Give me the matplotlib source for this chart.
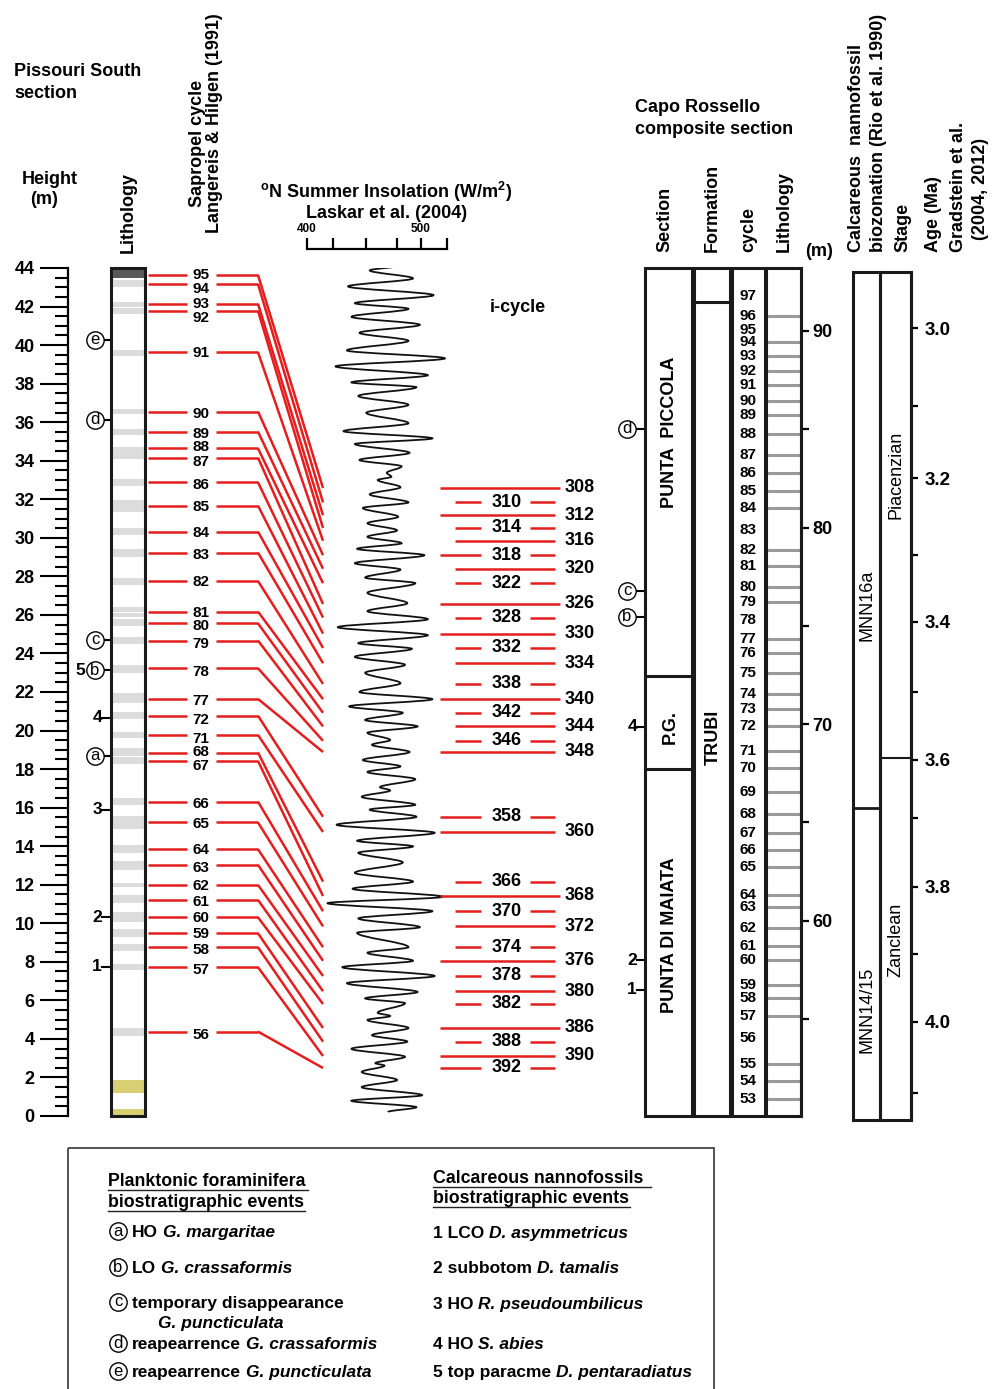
import numpy as np
import matplotlib
matplotlib.use("Agg")
import matplotlib.pyplot as plt
from matplotlib.patches import Rectangle, ConnectionPatch, PathPatch
from matplotlib.path import Path
import matplotlib.transforms as mtransforms

# ======================= DATA =======================
# --- Pissouri South section (height in m) ---
height_major_ticks = list(range(0, 45, 2))
height_minor_ticks = [i * 0.5 for i in range(0, 89)]
sapropel_bands = [(43.0, 43.4), (42.0, 42.25), (41.6, 41.95), (39.45, 39.75), (36.4, 36.7),
                  (35.35, 35.65), (34.1, 34.7), (32.7, 33.05), (31.35, 31.95), (30.15, 30.5),
                  (29.0, 29.4), (27.55, 27.9), (26.15, 26.4), (25.9, 26.1), (25.4, 25.8),
                  (24.5, 24.85), (23.0, 23.4), (21.45, 21.95), (20.6, 20.95), (19.6, 19.9),
                  (18.7, 19.1), (18.25, 18.65), (16.15, 16.5), (14.9, 15.55), (13.65, 14.05),
                  (12.75, 13.25), (11.9, 12.1), (11.05, 11.45), (10.05, 10.6), (9.3, 9.7),
                  (8.55, 8.9), (7.6, 7.9), (4.15, 4.55)]
dark_bands = [(43.5, 44.0)]
sand_bands = [(1.2, 1.85), (0.05, 0.35)]

sapropel_numbers = [95, 94, 93, 92, 91, 90, 89, 88, 87, 86, 85, 84, 83, 82, 81, 80, 79, 78, 77,
                    72, 71, 68, 67, 66, 65, 64, 63, 62, 61, 60, 59, 58, 57, 56]
sapropel_heights = [43.64, 43.17, 42.14, 41.78, 39.63, 36.55, 35.51, 34.64, 34.16, 32.88, 31.67,
                    30.32, 29.23, 27.76, 26.17, 25.56, 24.67, 23.23, 21.64, 20.77, 19.77, 18.86,
                    18.42, 16.31, 15.23, 13.84, 13.03, 11.99, 11.21, 10.31, 9.48, 8.75, 7.72, 4.38]
sapropel_icycles = [308, 310, 312, 314, 316, 318, 320, 322, 326, 328, 330, 332, 334, 338, 340,
                    342, 344, 346, 348, 358, 360, 366, 368, 370, 372, 374, 376, 378, 380, 382,
                    386, 388, 390, 392]

pis_foram_letters = ['e', 'd', 'c', 'b', 'a']
pis_foram_heights = [40.27, 36.12, 24.70, 23.14, 18.68]
pis_nanno_numbers = ['4', '3', '2', '1']
pis_nanno_heights = [20.67, 15.88, 10.30, 7.75]
pis_nanno5_height = 23.14

# --- Summer insolation (Laskar et al. 2004), turning points of the curve ---
insol_ticks = [400, 423, 452, 479, 500, 523]
insol_tick_labels = ['400', '', '', '', '500', '']
insol_wm2 = [482, 455, 493, 436, 511, 442, 489, 439, 499, 446, 489, 435, 521, 425, 506, 439,
             496, 445, 489, 452, 489, 432, 510, 442, 490, 446, 483, 470, 474, 462, 482, 455,
             489, 449, 480, 453, 479, 453, 483, 444, 503, 442, 482, 451, 495, 453, 488, 453,
             506, 427, 506, 445, 492, 442, 486, 451, 482, 446, 510, 437, 484, 451, 497, 453,
             473, 457, 490, 449, 482, 453, 495, 464, 473, 448, 495, 455, 496, 426, 512, 444,
             493, 445, 484, 442, 493, 440, 519, 418, 510, 445, 499, 444, 489, 453, 493, 431,
             512, 435, 497, 451, 486, 462, 473, 453, 489, 457, 488, 439, 486, 460, 468, 448,
             479, 448, 501, 439, 496, 471]
insol_age_ka = [2832, 2838, 2848, 2858, 2869, 2879, 2886, 2896, 2906, 2916, 2926, 2938, 2948,
                2958, 2969, 2978, 2984, 2995, 3006, 3016, 3029, 3039, 3048, 3055, 3066, 3075,
                3083, 3091, 3096, 3100, 3109, 3118, 3128, 3135, 3146, 3154, 3163, 3171, 3179,
                3186, 3194, 3204, 3212, 3222, 3229, 3241, 3254, 3264, 3274, 3284, 3294, 3304,
                3311, 3321, 3331, 3341, 3354, 3365, 3374, 3383, 3391, 3400, 3408, 3416, 3425,
                3431, 3440, 3450, 3458, 3465, 3474, 3484, 3488, 3496, 3506, 3512, 3521, 3531,
                3541, 3551, 3558, 3566, 3578, 3591, 3602, 3611, 3621, 3629, 3639, 3648, 3659,
                3666, 3684, 3691, 3701, 3709, 3720, 3729, 3740, 3748, 3754, 3766, 3770, 3775,
                3785, 3794, 3802, 3811, 3821, 3829, 3832, 3840, 3850, 3859, 3869, 3876, 3884,
                3890]
insol_age_top_ka, insol_age_bottom_ka = 2835, 3895

# --- i-cycles ---
icycle_numbers = sapropel_icycles
icycle_age_ka = [3110, 3128, 3144, 3160, 3176, 3194, 3211, 3229, 3255, 3272, 3292, 3310, 3329,
                 3355, 3374, 3391, 3408, 3426, 3440, 3521, 3540, 3602, 3620, 3639, 3658, 3684,
                 3701, 3720, 3739, 3755, 3785, 3802, 3820, 3835]
icycle_label_right = [308, 312, 316, 320, 326, 330, 334, 340, 344, 348, 360, 368, 372, 376, 380,
                      386, 390]

# --- Capo Rossello composite section (m) ---
cr_top_m, cr_bottom_m = 93.2, 50.07
cr_cycle_numbers = list(range(97, 52, -1))
cr_cycle_depths = [91.78, 90.76, 90.05, 89.44, 88.73, 87.97, 87.25, 86.44, 85.73, 84.76, 83.69,
                   82.78, 81.86, 81.00, 79.88, 78.86, 78.05, 76.98, 76.22, 75.30, 74.33, 73.62,
                   72.60, 71.53, 70.77, 69.91, 68.64, 67.77, 66.55, 65.43, 64.47, 63.60, 62.74,
                   61.31, 60.70, 59.63, 58.72, 58.01, 56.73, 56.07, 55.16, 54.04, 52.72, 51.85,
                   50.94]
cr_no_sapropel = [97, 95, 83, 78, 56]
cr_section_boundaries = [72.45, 67.72]
cr_formation_boundary = 91.47
cr_depth_major = [60, 70, 80, 90]
cr_depth_minor = [55, 65, 75, 85]
cr_foram_letters = ['d', 'c', 'b']
cr_foram_depths = [85.02, 76.78, 75.45]
cr_nanno_numbers = ['4', '2', '1']
cr_nanno_depths = [69.86, 58.00, 56.48]

# --- Biozonation / stage / age (depth-equivalent of the age column) ---
age_major_labels = ['3.0', '3.2', '3.4', '3.6', '3.8', '4.0']
age_major_depths = [90.35, 82.70, 75.40, 68.40, 61.94, 55.07]
age_minor_depths = [86.40, 78.81, 71.84, 65.43, 58.51, 51.46]
biozone_boundary_depth = 65.94
stage_boundary_depth = 68.46

# ======================= STYLE / LAYOUT =======================
plt.rcParams['font.family'] = ['Liberation Sans', 'DejaVu Sans']
plt.rcParams['font.weight'] = 'bold'
plt.rcParams['mathtext.fontset'] = 'custom'
plt.rcParams['mathtext.rm'] = 'Liberation Sans:bold'
plt.rcParams['mathtext.bf'] = 'Liberation Sans:bold'
plt.rcParams['mathtext.default'] = 'rm'

RED = '#e41e1e'
EDGE = '#1a1a1a'
W, H = 998, 1389
fig = plt.figure(figsize=(W / 100, H / 100), dpi=100)

axF = fig.add_axes([0, 0, 1, 1])
axF.set_xlim(0, W)
axF.set_ylim(H, 0)
axF.axis('off')


def add_ax(x0, y0, x1, y1):
    ax = fig.add_axes([x0 / W, 1 - y1 / H, (x1 - x0) / W, (y1 - y0) / H])
    ax.patch.set_visible(False)
    return ax


def T(x, y, s, **kw):
    return axF.text(x, y, s, **kw)


# ---------- headers ----------
T(14, 72, 'Pissouri South', ha='left', va='center', fontsize=13)
T(14, 93, 'section', ha='left', va='center', fontsize=13)
T(22, 179, 'Height', ha='left', va='center', fontsize=13)
T(30, 199, '(m)', ha='left', va='center', fontsize=13)
T(128, 253, 'Lithology', rotation=90, ha='center', va='bottom', fontsize=13)
T(198, 207, 'Sapropel cycle', rotation=90, ha='center', va='bottom', fontsize=13)
T(215, 233, 'Langereis & Hilgen (1991)', rotation=90, ha='center', va='bottom', fontsize=13)
T(386, 192, r'$^{\mathrm{o}}$N Summer Insolation (W/m$^{2}$)', ha='center', va='center', fontsize=13)
T(387, 213, 'Laskar et al. (2004)', ha='center', va='center', fontsize=13)
T(518, 307, 'i-cycle', ha='center', va='center', fontsize=13)
T(635, 108, 'Capo Rossello', ha='left', va='center', fontsize=13)
T(635, 129, 'composite section', ha='left', va='center', fontsize=13)
T(665, 252, 'Section', rotation=90, ha='center', va='bottom', fontsize=13)
T(712, 252, 'Formation', rotation=90, ha='center', va='bottom', fontsize=13)
T(749, 252, 'cycle', rotation=90, ha='center', va='bottom', fontsize=13)
T(784, 252, 'Lithology', rotation=90, ha='center', va='bottom', fontsize=13)
T(819, 251, '(m)', ha='center', va='center', fontsize=13)
T(857, 252, 'Calcareous  nannofossil', rotation=90, ha='center', va='bottom', fontsize=13)
T(879, 252, 'biozonation (Rio et al. 1990)', rotation=90, ha='center', va='bottom', fontsize=13)
T(903, 252, 'Stage', rotation=90, ha='center', va='bottom', fontsize=13)
T(934, 252, 'Age (Ma)', rotation=90, ha='center', va='bottom', fontsize=13)
T(959, 252, 'Gradstein et al.', rotation=90, ha='center', va='bottom', fontsize=13)
T(981, 240, '(2004, 2012)', rotation=90, ha='center', va='bottom', fontsize=13)

# ---------- Pissouri panel ----------
axP = add_ax(0, 268, 330, 1116)
axP.set_xlim(0, 330)
axP.set_ylim(0, 44)
for s in ['top', 'right', 'bottom']:
    axP.spines[s].set_visible(False)
axP.spines['left'].set_position(('data', 68))
axP.spines['left'].set_linewidth(1.6)
axP.set_xticks([])
axP.set_yticks(height_major_ticks)
axP.set_yticks(height_minor_ticks, minor=True)
axP.tick_params(axis='y', which='major', length=20, width=1.5, labelsize=13, pad=4)
axP.tick_params(axis='y', which='minor', length=9.5, width=1.5)

for bands, col in [(sapropel_bands, '#dcdcdc'), (dark_bands, '#5a5a5a'), (sand_bands, '#d8cf72')]:
    b = np.array(bands)
    axP.bar(128, b[:, 1] - b[:, 0], bottom=b[:, 0], width=34, color=col, linewidth=0)
axP.add_patch(Rectangle((111, 0), 34, 44, fill=False, ec=EDGE, lw=2.2, zorder=4, clip_on=False))

label_off = [0, 5, 0, 7, 1, 2, 2, -1, 4, 3, 1, 1, 2, 1, 1, 3, 3, 4, 2, 4, 4, -1, 5, 2, 2, 1, 3, 1, 2,
             1, 1, 3, 3, 3]

# ---------- insolation panel ----------
axI = add_ax(290, 268, 460, 1116)
axI.set_xlim(385.1, 534.2)
axI.set_ylim(insol_age_bottom_ka, insol_age_top_ka)
axI.axis('off')

verts = [(insol_wm2[0], insol_age_ka[0])]
codes = [Path.MOVETO]
for i in range(1, len(insol_wm2)):
    x0, t0 = insol_wm2[i - 1], insol_age_ka[i - 1]
    x1, t1 = insol_wm2[i], insol_age_ka[i]
    dt = t1 - t0
    verts += [(x0, t0 + dt / 3), (x1, t1 - dt / 3), (x1, t1)]
    codes += [Path.CURVE4] * 3
axI.add_patch(PathPatch(Path(verts, codes), fill=False, ec='#111111', lw=1.3))

axS = add_ax(290, 200, 460, 249)
axS.set_xlim(385.1, 534.2)
axS.set_ylim(0, 1)
for s in ['bottom', 'left', 'right']:
    axS.spines[s].set_visible(False)
axS.spines['top'].set_position(('axes', 0))
axS.spines['top'].set_bounds(insol_ticks[0], insol_ticks[-1])
axS.spines['top'].set_linewidth(1.6)
axS.set_yticks([])
axS.xaxis.tick_top()
axS.set_xticks(insol_ticks)
axS.set_xticklabels(insol_tick_labels)
axS.tick_params(axis='x', length=8, width=1.6, labelsize=8.5, pad=2)

# sapropel lines + correlation to i-cycles
blend = mtransforms.blended_transform_factory(axP.transData, axI.transData)
for n, h, ic, off in zip(sapropel_numbers, sapropel_heights, sapropel_icycles, label_off):
    axP.plot([148, 187], [h, h], color=RED, lw=1.8, solid_capstyle='butt')
    axP.plot([216, 258], [h, h], color=RED, lw=1.8, solid_capstyle='butt')
    tr = mtransforms.offset_copy(axP.transData, fig=fig, x=0, y=-off, units='dots')
    axP.text(201, h, str(n), transform=tr, ha='center', va='center', fontsize=11)
    t = icycle_age_ka[icycle_numbers.index(ic)]
    con = ConnectionPatch(xyA=(258, h), coordsA=axP.transData, xyB=(323, t), coordsB=blend,
                          color=RED, lw=1.8, shrinkA=0, shrinkB=0, capstyle='butt')
    fig.add_artist(con)

for L, h in zip(pis_foram_letters, pis_foram_heights):
    axP.plot([103, 111], [h, h], color='k', lw=1.5)
    axP.plot([95], [h], 'o', ms=12.5, mfc='white', mec='k', mew=1.0)
    axP.text(95, h, L, ha='center', va='center', fontsize=12, fontweight='normal')
for n, h in zip(pis_nanno_numbers, pis_nanno_heights):
    axP.plot([102, 111], [h, h], color='k', lw=1.5)
    axP.text(102, h, n, ha='right', va='center', fontsize=12.5)
axP.text(85, pis_nanno5_height, '5', ha='right', va='center', fontsize=12.5)

# ---------- i-cycle column ----------
axC = add_ax(430, 268, 620, 1116)
axC.set_xlim(430, 620)
axC.set_ylim(insol_age_bottom_ka, insol_age_top_ka)
axC.axis('off')
long_start = [308, 312, 318, 326, 330, 340, 348, 358, 360, 368, 376, 386, 390, 392]
long_end = [308, 326, 340, 368, 386]
for n, t in zip(icycle_numbers, icycle_age_ka):
    xs = 440 if n in long_start else 455
    if n in icycle_label_right:
        xe = 560 if n in long_end else 555
        axC.plot([xs, xe], [t, t], color=RED, lw=1.8, solid_capstyle='butt')
        axC.text(565, t, str(n), ha='left', va='center', fontsize=13)
    else:
        axC.plot([xs, 481], [t, t], color=RED, lw=1.8, solid_capstyle='butt')
        axC.plot([530, 555], [t, t], color=RED, lw=1.8, solid_capstyle='butt')
        axC.text(507, t, str(n), ha='center', va='center', fontsize=13)

# ---------- Capo Rossello ----------
axCR = add_ax(600, 268, 840, 1116)
axCR.set_xlim(600, 840)
axCR.set_ylim(cr_bottom_m, cr_top_m)
for s in ['top', 'left', 'bottom']:
    axCR.spines[s].set_visible(False)
axCR.spines['right'].set_position(('data', 801))
axCR.spines['right'].set_linewidth(2.2)
axCR.set_xticks([])
axCR.yaxis.tick_right()
axCR.set_yticks(cr_depth_major)
axCR.set_yticks(cr_depth_minor, minor=True)
axCR.tick_params(axis='y', which='both', length=6, width=1.6, labelsize=13, pad=2)

for x0, x1 in [(645, 692), (694, 730), (732, 765), (766, 801)]:
    axCR.add_patch(Rectangle((x0, cr_bottom_m), x1 - x0, cr_top_m - cr_bottom_m, fill=False,
                             ec=EDGE, lw=2.2, clip_on=False, zorder=4))
for d in cr_section_boundaries:
    axCR.plot([645, 692], [d, d], color=EDGE, lw=2.2)
axCR.plot([694, 730], [cr_formation_boundary, cr_formation_boundary], color=EDGE, lw=2.2)
for n, d in zip(cr_cycle_numbers, cr_cycle_depths):
    axCR.text(748, d, str(n), ha='center', va='center', fontsize=11)
    if n not in cr_no_sapropel:
        axCR.plot([767, 800], [d, d], color='#9a9a9a', lw=2.2, solid_capstyle='butt')
for L, d in zip(cr_foram_letters, cr_foram_depths):
    axCR.plot([634, 645], [d, d], color='k', lw=1.5)
    axCR.plot([627], [d], 'o', ms=12.5, mfc='white', mec='k', mew=1.0)
    axCR.text(627, d, L, ha='center', va='center', fontsize=12, fontweight='normal')
for n, d in zip(cr_nanno_numbers, cr_nanno_depths):
    axCR.plot([637, 645], [d, d], color='k', lw=1.5)
    axCR.text(637, d, n, ha='right', va='center', fontsize=12.5)

T(670, 432, 'PUNTA  PICCOLA', rotation=90, ha='center', va='center', fontsize=13)
T(670, 727, 'P.G.', rotation=90, ha='center', va='center', fontsize=13)
T(670, 935, 'PUNTA DI MAIATA', rotation=90, ha='center', va='center', fontsize=13)
T(713, 737, 'TRUBI', rotation=90, ha='center', va='center', fontsize=13)

# ---------- biozone / stage / age ----------
axR = add_ax(840, 272, 998, 1120)
axR.set_xlim(840, 998)
axR.set_ylim(cr_bottom_m, cr_top_m)
for s in ['top', 'left', 'bottom']:
    axR.spines[s].set_visible(False)
axR.spines['right'].set_position(('data', 911))
axR.spines['right'].set_linewidth(2.2)
axR.set_xticks([])
axR.yaxis.tick_right()
axR.set_yticks(age_major_depths)
axR.set_yticklabels(age_major_labels)
axR.set_yticks(age_minor_depths, minor=True)
axR.tick_params(axis='y', which='both', length=5, width=1.6, labelsize=13.5, pad=5)
for x0, x1 in [(853, 880), (880, 911)]:
    axR.add_patch(Rectangle((x0, cr_bottom_m), x1 - x0, cr_top_m - cr_bottom_m, fill=False,
                            ec=EDGE, lw=2.2, clip_on=False, zorder=4))
axR.plot([853, 880], [biozone_boundary_depth] * 2, color=EDGE, lw=2.0)
axR.plot([880, 911], [stage_boundary_depth] * 2, color=EDGE, lw=1.5)

narrow = ['Liberation Sans Narrow', 'Liberation Sans', 'DejaVu Sans']
T(867, 605, 'MNN16a', rotation=90, ha='center', va='center', fontsize=13, family=narrow, fontweight='normal')
T(867, 1010, 'MNN14/15', rotation=90, ha='center', va='center', fontsize=13, family=narrow, fontweight='normal')
T(896, 475, 'Piacenzian', rotation=90, ha='center', va='center', fontsize=13, family=narrow, fontweight='normal')
T(896, 940, 'Zanclean', rotation=90, ha='center', va='center', fontsize=13, family=narrow, fontweight='normal')

# ---------- legend ----------
axF.add_patch(Rectangle((68, 1148), 646, 260, fill=False, ec='#444444', lw=1.3, clip_on=False))


def rich(x, y, parts, size=12.5):
    prev = axF.text(x, y, parts[0][0], ha='left', va='baseline', fontsize=size, fontstyle=parts[0][1])
    for s, st in parts[1:]:
        prev = axF.annotate(s, xy=(1, 0), xycoords=prev, xytext=(3.5, 0), textcoords='offset points',
                            ha='left', va='bottom', fontsize=size, fontstyle=st)


def circ(x, y, L):
    axF.plot([x], [y], 'o', ms=12.5, mfc='white', mec='k', mew=1.0)
    axF.text(x, y, L, ha='center', va='center', fontsize=12, fontweight='normal')


rich(108, 1186, [('Planktonic foraminifera', 'normal')], size=12.8)
rich(108, 1207, [('biostratigraphic events', 'normal')], size=12.8)
rich(433, 1183, [('Calcareous nannofossils', 'normal')], size=12.8)
rich(433, 1203, [('biostratigraphic events', 'normal')], size=12.8)
for (x0, x1, y) in [(108, 308, 1190), (108, 305, 1211), (433, 651, 1187), (433, 630, 1207)]:
    axF.plot([x0, x1], [y, y], color='#222222', lw=1.0)

circ(118, 1231, 'a'); rich(132, 1237, [('HO', 'normal'), ('G. margaritae', 'italic')])
circ(118, 1267, 'b'); rich(132, 1273, [('LO', 'normal'), ('G. crassaformis', 'italic')])
circ(118, 1302, 'c'); rich(132, 1308, [('temporary disappearance', 'normal')])
rich(158, 1328, [('G. puncticulata', 'italic')])
circ(118, 1343, 'd'); rich(132, 1349, [('reapearrence', 'normal'), ('G. crassaformis', 'italic')])
circ(118, 1371, 'e'); rich(132, 1377, [('reapearrence', 'normal'), ('G. puncticulata', 'italic')])

rich(433, 1238, [('1 LCO', 'normal'), ('D. asymmetricus', 'italic')])
rich(433, 1273, [('2 subbotom', 'normal'), ('D. tamalis', 'italic')])
rich(433, 1309, [('3 HO', 'normal'), ('R. pseudoumbilicus', 'italic')])
rich(433, 1349, [('4 HO', 'normal'), ('S. abies', 'italic')])
rich(433, 1377, [('5 top paracme', 'normal'), ('D. pentaradiatus', 'italic')])

fig.savefig('out.png', dpi=100)
